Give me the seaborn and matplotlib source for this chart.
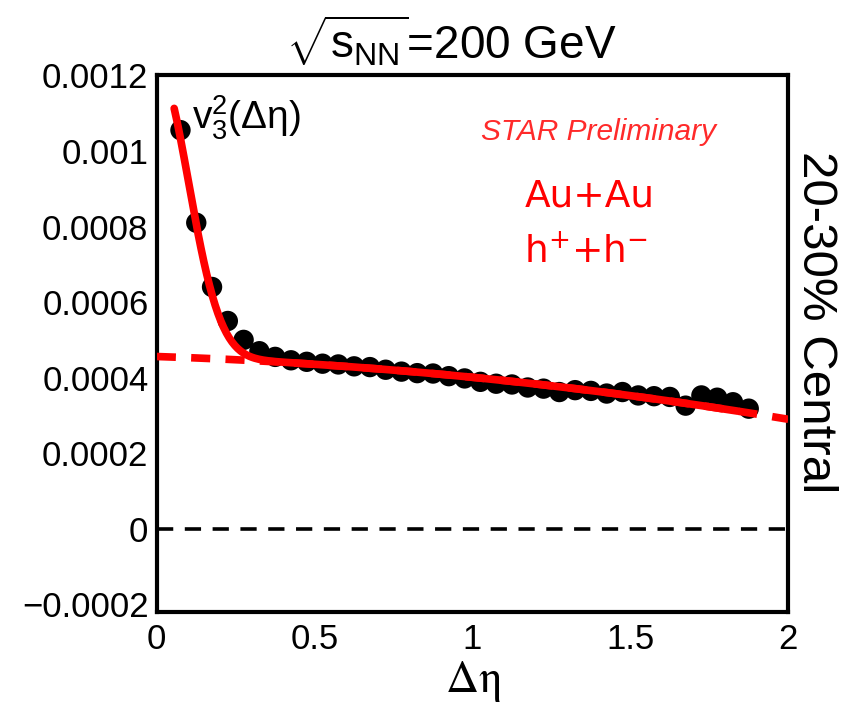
import numpy as np
import pandas as pd
import matplotlib
matplotlib.use("Agg")
import matplotlib.pyplot as plt
import seaborn as sns
from matplotlib.ticker import FixedLocator, MultipleLocator

# Measured v3^2 vs pseudorapidity gap
delta_eta = [0.075, 0.125, 0.175, 0.225, 0.275, 0.325, 0.375, 0.425, 0.475,
             0.525, 0.575, 0.625, 0.675, 0.725, 0.775, 0.825, 0.875, 0.925,
             0.975, 1.025, 1.075, 1.125, 1.175, 1.225, 1.275, 1.325, 1.375,
             1.425, 1.475, 1.525, 1.575, 1.625, 1.675, 1.725, 1.775, 1.825,
             1.875]
v3_sq = [0.001055, 0.000810, 0.000640, 0.000550, 0.000500, 0.000470, 0.000455,
         0.000446, 0.000442, 0.000437, 0.000435, 0.000430, 0.000428, 0.000421,
         0.000416, 0.000412, 0.000411, 0.000404, 0.000398, 0.000389, 0.000384,
         0.000382, 0.000374, 0.000371, 0.000362, 0.000367, 0.000365, 0.000358,
         0.000362, 0.000353, 0.000351, 0.000349, 0.000326, 0.000353, 0.000347,
         0.000335, 0.000318]

# Fit: near-side Gaussian on top of a smooth long-range part
near_amp = 7.64e-4
near_sigma = 0.1007
far_c0 = 4.56e-4
far_c1 = -2.7e-5
far_c2 = -2.8e-5
fit_lo, fit_hi = 0.055, 1.84

x_ticks = [0, 0.5, 1, 1.5, 2]
x_tick_labels = ["0", "0.5", "1", "1.5", "2"]
y_ticks = [-0.0002, 0, 0.0002, 0.0004, 0.0006, 0.0008, 0.001, 0.0012]
y_tick_labels = ["\u22120.0002", "0", "0.0002", "0.0004", "0.0006", "0.0008",
                 "0.001", "0.0012"]


def far_part(x):
    return far_c0 + far_c1 * x + far_c2 * x ** 2


def full_fit(x):
    return near_amp * np.exp(-x ** 2 / (2 * near_sigma ** 2)) + far_part(x)


sns.set_theme(style="white")
plt.rcParams["font.family"] = ["Liberation Sans", "DejaVu Sans"]
plt.rcParams["text.color"] = "black"
plt.rcParams["axes.labelcolor"] = "black"
plt.rcParams["mathtext.fontset"] = "custom"
plt.rcParams["mathtext.rm"] = "Liberation Sans"
plt.rcParams["mathtext.it"] = "Liberation Sans:italic"
plt.rcParams["mathtext.bf"] = "Liberation Sans:bold"

fig = plt.figure(figsize=(8.43, 7.08), dpi=100)
ax = fig.add_axes([0.186, 0.1356, 0.749, 0.758])

points = pd.DataFrame({"deta": delta_eta, "v3sq": v3_sq})
sns.scatterplot(data=points, x="deta", y="v3sq", ax=ax, color="black",
                s=215, edgecolor="none", linewidth=0, zorder=3)

grid_fit = np.linspace(fit_lo, fit_hi, 400)
fit_df = pd.DataFrame({"deta": grid_fit, "v": full_fit(grid_fit)})
grid_far = np.linspace(0, 2, 200)
far_df = pd.DataFrame({"deta": grid_far, "v": far_part(grid_far)})

sns.lineplot(data=far_df, x="deta", y="v", ax=ax, color="#ff0000", lw=5.5,
             zorder=4)
ax.lines[-1].set_dashes([2.5, 2.0])
sns.lineplot(data=fit_df, x="deta", y="v", ax=ax, color="#ff0000", lw=5.5,
             zorder=5)

zero_df = pd.DataFrame({"deta": [0, 2], "v": [0, 0]})
sns.lineplot(data=zero_df, x="deta", y="v", ax=ax, color="black", lw=2.6,
             zorder=2)
ax.lines[-1].set_dashes([4.5, 3.2])

ax.set_xlim(0, 2)
ax.set_ylim(-0.00022, 0.0012)
ax.xaxis.set_major_locator(FixedLocator(x_ticks))
ax.set_xticklabels(x_tick_labels)
ax.xaxis.set_minor_locator(MultipleLocator(0.25))
ax.yaxis.set_major_locator(FixedLocator(y_ticks))
ax.set_yticklabels(y_tick_labels)
ax.yaxis.set_minor_locator(MultipleLocator(0.0001))

for sp in ax.spines.values():
    sp.set_linewidth(3)
    sp.set_color("black")
ax.tick_params(which="both", direction="in", top=False, right=False,
               width=3, colors="black", labelsize=25, pad=6)
ax.tick_params(which="major", length=14)
ax.tick_params(which="minor", length=8)
ax.tick_params(axis="x", pad=8)

ax.set_xlabel(r"$\mathrm{\Delta\eta}$", fontsize=33, math_fontfamily="stix",
              labelpad=2)
ax.set_ylabel("")

fig.text(0.535, 0.942, r"$\sqrt{\mathrm{s}_{\mathrm{NN}}}$=200 GeV",
         fontsize=33, ha="center", va="center")
ax.text(0.055, 0.965, "v$_{3}^{2}$(\u0394\u03b7)", transform=ax.transAxes,
        fontsize=28, ha="left", va="top")
ax.text(0.70, 0.895, "STAR Preliminary", transform=ax.transAxes,
        fontsize=21.5, style="italic", color="#ff2a2a", ha="center",
        va="center")
ax.text(0.582, 0.775, "Au+Au", transform=ax.transAxes, fontsize=27,
        color="#ff0000", ha="left", va="center", family="DejaVu Sans")
ax.text(0.582, 0.67, r"h$^{+}$+h$^{-}$", transform=ax.transAxes,
        fontsize=27, color="#ff0000", ha="left", va="center",
        family="DejaVu Sans", math_fontfamily="dejavusans")
fig.text(0.967, 0.545, "20-30% Central", rotation=-90, fontsize=35.5,
         ha="center", va="center")

fig.savefig("out.png", dpi=100, facecolor="white")
